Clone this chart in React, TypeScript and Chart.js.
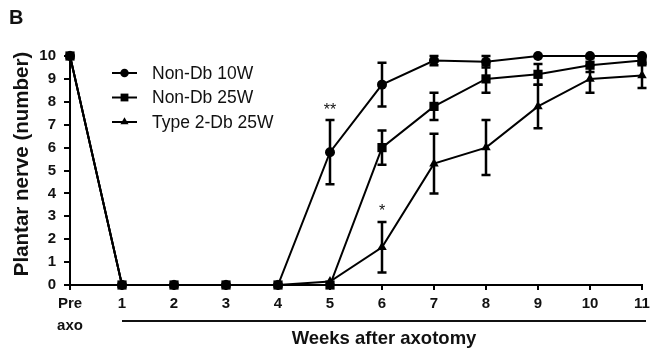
import React, { useEffect, useRef } from "react";
import { Chart, registerables } from "chart.js";

Chart.register(...registerables);

const weeks = [0, 1, 2, 3, 4, 5, 6, 7, 8, 9, 10, 11];
const tickLabels = ["Pre|axo", "1", "2", "3", "4", "5", "6", "7", "8", "9", "10", "11"];

const nonDb10W = [10, 0, 0, 0, 0, 5.8, 8.75, 9.8, 9.75, 10, 10, 10];
const nonDb10WErr = [0, 0, 0, 0, 0, 1.4, 0.95, 0.2, 0.25, 0.05, 0, 0];

const nonDb25W = [10, 0, 0, 0, 0, 0, 6.0, 7.8, 9.0, 9.2, 9.6, 9.8];
const nonDb25WErr = [0, 0, 0, 0, 0, 0, 0.75, 0.6, 0.6, 0.45, 0.3, 0.2];

const type2Db25W = [10, 0, 0, 0, 0, 0.15, 1.65, 5.3, 6.0, 7.8, 9.0, 9.15];
const type2Db25WErr = [0, 0, 0, 0, 0, 0, 1.1, 1.3, 1.2, 0.95, 0.6, 0.55];

const seriesNames = ["Non-Db 10W", "Non-Db 25W", "Type 2-Db 25W"];
const markers = ["circle", "rect", "triangle"];
const markerRadius = [5, 6.5, 5.5];

const stars = [
  { x: 5, y: 7.2, text: "**" },
  { x: 6, y: 2.75, text: "*" },
];

const FONT = "'Liberation Sans', Arial, sans-serif";

function drawMarker(ctx: CanvasRenderingContext2D, style: string, x: number, y: number, r: number) {
  ctx.beginPath();
  if (style === "circle") {
    ctx.arc(x, y, r, 0, Math.PI * 2);
  } else if (style === "rect") {
    const s = Math.SQRT1_2 * r;
    ctx.rect(x - s, y - s, 2 * s, 2 * s);
  } else {
    ctx.moveTo(x, y - r);
    ctx.lineTo(x + r * 0.866, y + r * 0.5);
    ctx.lineTo(x - r * 0.866, y + r * 0.5);
    ctx.closePath();
  }
  ctx.fill();
}

const errorBarPlugin = {
  id: "errorBars",
  afterDatasetsDraw(chart: any) {
    const ctx = chart.ctx;
    const xs = chart.scales.x;
    const ys = chart.scales.y;
    const errs = [nonDb10WErr, nonDb25WErr, type2Db25WErr];
    ctx.save();
    ctx.strokeStyle = "#000";
    ctx.lineWidth = 2.5;
    chart.data.datasets.forEach((ds: any, di: number) => {
      ds.data.forEach((p: any, i: number) => {
        const e = errs[di][i];
        if (!e || e < 0.1) return;
        const px = xs.getPixelForValue(p.x);
        const top = ys.getPixelForValue(p.y + e);
        const bot = ys.getPixelForValue(p.y - e);
        ctx.beginPath();
        ctx.moveTo(px, top);
        ctx.lineTo(px, bot);
        ctx.moveTo(px - 4.5, top);
        ctx.lineTo(px + 4.5, top);
        ctx.moveTo(px - 4.5, bot);
        ctx.lineTo(px + 4.5, bot);
        ctx.stroke();
      });
    });
    ctx.restore();
  },
  afterDraw(chart: any) {
    const ctx = chart.ctx;
    const xs = chart.scales.x;
    const ys = chart.scales.y;
    ctx.save();
    ctx.fillStyle = "#111";
    ctx.strokeStyle = "#111";
    // panel letter
    ctx.font = `bold 20px ${FONT}`;
    ctx.textAlign = "left";
    ctx.textBaseline = "middle";
    ctx.fillText("B", 9, 18);
    // significance stars
    ctx.font = `16px ${FONT}`;
    ctx.textAlign = "center";
    ctx.textBaseline = "bottom";
    stars.forEach((s) => {
      ctx.fillText(s.text, xs.getPixelForValue(s.x), ys.getPixelForValue(s.y) - 2);
    });
    // x axis bracket line + title
    const lx0 = xs.getPixelForValue(1);
    const lx1 = xs.getPixelForValue(11) + 4;
    ctx.lineWidth = 2;
    ctx.beginPath();
    ctx.moveTo(lx0, 321);
    ctx.lineTo(lx1, 321);
    ctx.stroke();
    ctx.font = `bold 18.5px ${FONT}`;
    ctx.textAlign = "center";
    ctx.textBaseline = "middle";
    ctx.fillText("Weeks after axotomy", (lx0 + lx1) / 2, 339);
    // y title
    ctx.save();
    ctx.translate(22, 164);
    ctx.rotate(-Math.PI / 2);
    ctx.font = `bold 20.5px ${FONT}`;
    ctx.fillText("Plantar nerve (number)", 0, 0);
    ctx.restore();
    // legend
    ctx.font = `17.5px ${FONT}`;
    ctx.textAlign = "left";
    ctx.textBaseline = "middle";
    seriesNames.forEach((name, i) => {
      const y = 73 + i * 24.5;
      ctx.lineWidth = 2;
      ctx.strokeStyle = "#000";
      ctx.beginPath();
      ctx.moveTo(112, y);
      ctx.lineTo(137, y);
      ctx.stroke();
      ctx.fillStyle = "#000";
      drawMarker(ctx, markers[i], 124.5, y, markerRadius[i] * 0.85);
      ctx.fillStyle = "#111";
      ctx.fillText(name, 152, y + 1);
    });
    ctx.restore();
  },
};

export default function App() {
  const ref = useRef<HTMLCanvasElement | null>(null);

  useEffect(() => {
    document.body.style.margin = "0";
    const canvas = ref.current;
    if (!canvas) return;
    const mk = (vals: number[]) => vals.map((v, i) => ({ x: weeks[i], y: v }));
    const chart = new Chart(canvas, {
      type: "line",
      data: {
        datasets: [
          { label: seriesNames[0], data: mk(nonDb10W), pointStyle: markers[0] as any, pointRadius: markerRadius[0], order: 1 },
          { label: seriesNames[1], data: mk(nonDb25W), pointStyle: markers[1] as any, pointRadius: markerRadius[1], order: 0 },
          { label: seriesNames[2], data: mk(type2Db25W), pointStyle: markers[2] as any, pointRadius: markerRadius[2], order: 2 },
        ].map((d) => ({
          ...d,
          borderColor: "#000",
          backgroundColor: "#000",
          pointBackgroundColor: "#000",
          pointBorderColor: "#000",
          pointBorderWidth: 0,
          borderWidth: 2,
          tension: 0,
          clip: false as any,
        })),
      },
      options: {
        animation: false,
        responsive: false,
        maintainAspectRatio: false,
        layout: { padding: { top: 56, right: 12, left: 0, bottom: 0 } },
        plugins: { legend: { display: false }, tooltip: { enabled: false } },
        scales: {
          x: {
            type: "linear",
            min: 0,
            max: 11,
            afterFit: (s: any) => {
              s.height = 66;
            },
            border: { display: true, color: "#000", width: 2 },
            grid: { display: true, drawOnChartArea: false, drawTicks: true, tickLength: 5, color: "#000", lineWidth: 2 },
            ticks: {
              stepSize: 1,
              autoSkip: false,
              maxRotation: 0,
              padding: 3,
              color: "#111",
              font: { family: FONT, size: 15, weight: "bold", lineHeight: "22px" } as any,
              callback: (v: any) => {
                const t = tickLabels[Math.round(Number(v))];
                return t.includes("|") ? t.split("|") : t;
              },
            },
          },
          y: {
            type: "linear",
            min: 0,
            max: 10,
            afterFit: (s: any) => {
              s.width = 70;
            },
            border: { display: true, color: "#000", width: 2 },
            grid: { display: true, drawOnChartArea: false, drawTicks: true, tickLength: 6, color: "#000", lineWidth: 2 },
            ticks: {
              stepSize: 1,
              padding: 8,
              color: "#111",
              font: { family: FONT, size: 15, weight: "bold" } as any,
            },
          },
        },
      },
      plugins: [errorBarPlugin],
    });
    return () => chart.destroy();
  }, []);

  return (
    <div style={{ position: "absolute", left: 0, top: 0, width: 654, height: 351, background: "#fff" }}>
      <canvas ref={ref} width={654} height={351} style={{ width: 654, height: 351 }} />
    </div>
  );
}
